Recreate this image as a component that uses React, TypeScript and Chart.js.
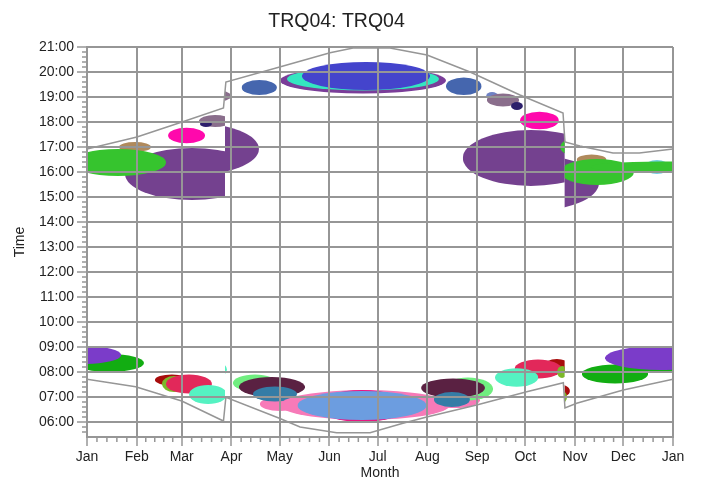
import React, { useEffect, useRef } from 'react';
import { Chart, registerables } from 'chart.js';

Chart.register(...registerables);

const FONT = "'Liberation Sans', Arial, Helvetica, sans-serif";
const GRID = 'rgb(150,150,150)';
const TEXT = '#222222';

// X axis: day of year, month starts
const monthDays = [0, 31, 59, 90, 120, 151, 181, 212, 243, 273, 304, 334, 365];
const monthLabels = ['Jan', 'Feb', 'Mar', 'Apr', 'May', 'Jun', 'Jul', 'Aug', 'Sep', 'Oct', 'Nov', 'Dec', 'Jan'];
// Y axis: clock hours
const hourTicks = [6, 7, 8, 9, 10, 11, 12, 13, 14, 15, 16, 17, 18, 19, 20, 21];
const Y_MIN = 5.4;
const Y_MAX = 21;

// Daylight saving boundaries (day of year)
const DST_START = 86;
const DST_END = 297.5;

// Sun boundary: sunset (upper) and sunrise (lower)
const sunsetDays = [0, 31.1, 59.2, 85, 86.5, 120, 151.4, 165.7, 188.7, 211.8, 238.6, 269.7, 296.5, 297.7, 307, 327.6, 344, 365];
const sunsetHours = [16.92, 17.4, 18.0, 18.56, 19.6, 20.2, 20.77, 20.96, 20.96, 20.68, 20.0, 19.08, 18.36, 17.2, 17.04, 16.76, 16.76, 16.92];
const sunriseDays = [0, 30.3, 59, 85, 86.5, 119.8, 132.7, 155.5, 176.3, 196.8, 211.6, 242.7, 273.9, 296.7, 297.7, 305, 334, 365];
const sunriseHours = [7.71, 7.41, 6.84, 6.04, 6.99, 6.15, 5.8, 5.57, 5.57, 5.95, 6.2, 6.68, 7.21, 7.57, 6.56, 6.75, 7.28, 7.71];

// Glare blobs: [centre day, centre clock hour, half-width (days), half-height (hours), colour key]
type Blob = [number, number, number, number, string];

const eveningBlobs: Blob[] = [
  [65.4, 15.92, 41.7, 1.04, 'purple'],
  [29.9, 17.0, 10, 0.2, 'tan'],
  [19.3, 16.38, 29.9, 0.54, 'green'],
  [62, 17.46, 11.5, 0.31, 'magenta'],
  [79.7, 18.04, 10, 0.24, 'mauve'],
  [74.1, 17.92, 3.7, 0.12, 'navy'],
  [107.3, 19.38, 11, 0.3, 'blue'],
  [171.9, 19.66, 51.7, 0.52, 'ringPurple'],
  [171.9, 19.72, 47.3, 0.46, 'cyan'],
  [173.8, 19.84, 39.9, 0.56, 'royal'],
  [234.7, 19.43, 11.1, 0.35, 'blue'],
  [252.3, 19.04, 3.7, 0.16, 'bluish'],
  [259.1, 18.88, 10, 0.26, 'mauve'],
  [267.8, 18.64, 3.7, 0.16, 'navy'],
  [281.8, 18.06, 12.1, 0.35, 'magenta'],
  [276.5, 16.56, 42.4, 1.12, 'purple'],
  [314.3, 16.48, 9.3, 0.22, 'tan'],
  [355, 16.2, 7.5, 0.28, 'lightBlue'],
  [317.7, 16.0, 23, 0.52, 'green'],
  [356.9, 16.2, 43.6, 0.22, 'green'],
];

const morningBlobs: Blob[] = [
  [14.3, 8.36, 21.2, 0.36, 'dgreen'],
  [-1.2, 8.68, 22.4, 0.36, 'violet'],
  [52.9, 7.68, 10.6, 0.22, 'darkred'],
  [54.2, 7.52, 7.5, 0.32, 'yellowgreen'],
  [63.5, 7.52, 14.3, 0.38, 'crimson'],
  [75.4, 7.1, 11.8, 0.38, 'aqua'],
  [104.6, 7.56, 13.7, 0.34, 'lgreen'],
  [120.2, 6.72, 12.5, 0.28, 'pink'],
  [115.2, 7.4, 20.6, 0.4, 'maroon'],
  [117.1, 7.12, 13.7, 0.3, 'steel'],
  [173.2, 6.68, 52.9, 0.6, 'pink'],
  [229.2, 6.88, 15.6, 0.32, 'pink'],
  [171.3, 6.64, 28, 0.64, 'deeppink'],
  [171.3, 6.66, 40.2, 0.58, 'sky'],
  [237.3, 7.32, 15.6, 0.46, 'lgreen'],
  [228, 7.36, 19.9, 0.38, 'maroon'],
  [227.3, 6.9, 11.2, 0.3, 'steel'],
  [292.7, 8.24, 8.1, 0.28, 'darkred'],
  [280.9, 8.12, 14.6, 0.38, 'crimson'],
  [295.9, 8.0, 3.1, 0.24, 'yellowgreen'],
  [267.6, 7.78, 13.5, 0.37, 'aqua'],
  [328.9, 7.92, 20.6, 0.38, 'dgreen'],
  [356.9, 8.2, 31.1, 0.24, 'dgreen'],
  [356.9, 8.56, 34.3, 0.48, 'violet'],
];

const palette: Record<string, string> = {
  purple: '#74418f',
  green: '#36c42e',
  tan: '#b08a5c',
  magenta: '#ff08ac',
  mauve: '#8a6e8c',
  navy: '#2c1f6b',
  blue: '#4566ae',
  ringPurple: '#7a3d99',
  cyan: '#34e6c0',
  royal: '#4444cc',
  lightBlue: '#72cfe0',
  bluish: '#6f82c4',
  dgreen: '#12ad12',
  violet: '#7b3cc9',
  darkred: '#a80c0c',
  yellowgreen: '#7cb82a',
  crimson: '#e2285a',
  aqua: '#55f2c2',
  lgreen: '#70ee80',
  maroon: '#5a2142',
  steel: '#357ca6',
  pink: '#f77ab8',
  deeppink: '#e81583',
  sky: '#6c9de0',
};

const dstOff = (d: number) => (d >= DST_START && d < DST_END ? 1 : 0);

const blobPlugin = {
  id: 'glareBlobs',
  beforeDraw(chart: any) {
    const { ctx, chartArea: a, scales } = chart;
    const xs = scales.x;
    const ys = scales.y;
    ctx.save();
    ctx.beginPath();
    ctx.rect(a.left, a.top, a.right - a.left, a.bottom - a.top);
    ctx.clip();
    const segs: [number, number, number][] = [
      [-1000, DST_START, 0],
      [DST_START, DST_END, 1],
      [DST_END, 1000, 0],
    ];
    for (const b of [...eveningBlobs, ...morningBlobs]) {
      const [day, hour, rd, rh, key] = b;
      const c0 = dstOff(day);
      for (const [lo, hi, off] of segs) {
        const dLo = Math.max(lo, day - rd);
        const dHi = Math.min(hi, day + rd);
        if (dLo >= dHi) continue;
        const shift = off - c0;
        const x0 = xs.getPixelForValue(dLo);
        const x1 = xs.getPixelForValue(dHi);
        const cx = xs.getPixelForValue(day);
        const cy = ys.getPixelForValue(hour + shift);
        const rx = Math.abs(xs.getPixelForValue(day + rd) - cx);
        const ry = Math.abs(ys.getPixelForValue(hour + shift + rh) - cy);
        ctx.save();
        ctx.beginPath();
        ctx.rect(x0, a.top, x1 - x0, a.bottom - a.top);
        ctx.clip();
        ctx.beginPath();
        ctx.ellipse(cx, cy, rx, ry, 0, 0, Math.PI * 2);
        ctx.fillStyle = palette[key];
        ctx.fill();
        ctx.restore();
      }
    }
    ctx.restore();
  },
};

const minorTickPlugin = {
  id: 'minorTicks',
  afterDraw(chart: any) {
    const { ctx, chartArea: a, scales } = chart;
    const xs = scales.x;
    const ys = scales.y;
    ctx.save();
    ctx.strokeStyle = GRID;
    ctx.lineWidth = 1.5;
    ctx.beginPath();
    const steps = Math.round((Y_MAX - Y_MIN) / 0.2);
    for (let k = 1; k < steps; k++) {
      const h = Y_MIN + k * 0.2;
      if (Math.abs(h - Math.round(h)) < 1e-6) continue;
      const y = ys.getPixelForValue(h);
      ctx.moveTo(a.left - 5, y);
      ctx.lineTo(a.left, y);
    }
    for (let i = 0; i < monthDays.length - 1; i++) {
      const d0 = monthDays[i];
      const d1 = monthDays[i + 1];
      for (let k = 1; k < 5; k++) {
        const x = xs.getPixelForValue(d0 + (k * (d1 - d0)) / 5);
        ctx.moveTo(x, a.bottom);
        ctx.lineTo(x, a.bottom + 5);
      }
    }
    ctx.stroke();
    ctx.restore();
  },
};

export default function App() {
  const canvasRef = useRef<HTMLCanvasElement | null>(null);

  useEffect(() => {
    if (!canvasRef.current) return;
    const chart = new Chart(canvasRef.current, {
      type: 'line',
      data: {
        datasets: [
          {
            label: 'Sunset',
            data: sunsetDays.map((d, i) => ({ x: d, y: sunsetHours[i] })),
            borderColor: GRID,
            borderWidth: 1.5,
            pointRadius: 0,
            fill: false,
            tension: 0,
          },
          {
            label: 'Sunrise',
            data: sunriseDays.map((d, i) => ({ x: d, y: sunriseHours[i] })),
            borderColor: GRID,
            borderWidth: 1.5,
            pointRadius: 0,
            fill: false,
            tension: 0,
          },
        ],
      },
      options: {
        animation: false,
        responsive: true,
        maintainAspectRatio: false,
        layout: { padding: { left: 0, right: 29, top: 0, bottom: 0 } },
        plugins: {
          legend: { display: false },
          tooltip: { enabled: false },
          title: {
            display: true,
            text: 'TRQ04: TRQ04',
            color: TEXT,
            font: { family: FONT, size: 19.5, weight: 'normal' },
            padding: { top: 10, bottom: 13.6 },
          },
        },
        scales: {
          x: {
            type: 'linear',
            min: 0,
            max: 365,
            afterBuildTicks: (s: any) => {
              s.ticks = monthDays.map((v) => ({ value: v }));
            },
            afterFit: (s: any) => {
              s.height = 45;
            },
            ticks: {
              autoSkip: false,
              maxRotation: 0,
              padding: 3,
              color: TEXT,
              font: { family: FONT, size: 14 },
              callback: (v: any) => monthLabels[monthDays.indexOf(Number(v))] ?? '',
            },
            grid: { color: GRID, lineWidth: 2, tickLength: 9, tickColor: GRID, tickWidth: 1.5 },
            border: { color: GRID, width: 2 },
            title: {
              display: true,
              text: 'Month',
              color: TEXT,
              font: { family: FONT, size: 14 },
              padding: { top: 0, bottom: 0 },
            },
          },
          y: {
            type: 'linear',
            min: Y_MIN,
            max: Y_MAX,
            afterBuildTicks: (s: any) => {
              s.ticks = hourTicks.map((v) => ({ value: v }));
            },
            afterFit: (s: any) => {
              s.width = 87;
            },
            ticks: {
              autoSkip: false,
              padding: 3,
              color: TEXT,
              font: { family: FONT, size: 14 },
              callback: (v: any) => String(v).padStart(2, '0') + ':00',
            },
            grid: { color: GRID, lineWidth: 2, tickLength: 10, tickColor: GRID, tickWidth: 1.5 },
            border: { color: GRID, width: 2 },
            title: {
              display: true,
              text: 'Time',
              color: TEXT,
              font: { family: FONT, size: 14 },
              padding: { top: 11.6, bottom: 0 },
            },
          },
        },
      },
      plugins: [blobPlugin, minorTickPlugin],
    } as any);
    return () => chart.destroy();
  }, []);

  return (
    <div style={{ position: 'absolute', left: 0, top: 0, width: 702, height: 482 }}>
      <canvas ref={canvasRef} />
    </div>
  );
}
